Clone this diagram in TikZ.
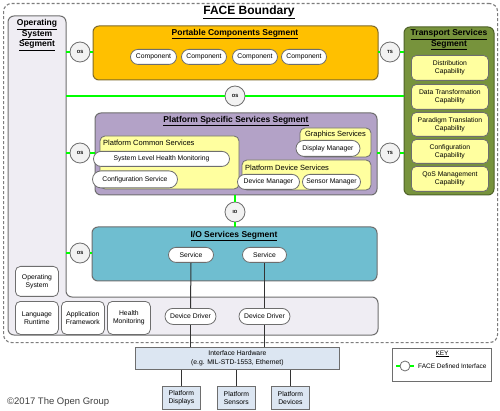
\documentclass[tikz,border=0pt]{standalone}
\usepackage{fontspec}
\setmainfont{Liberation Sans}
\usetikzlibrary{shapes.misc}
\definecolor{bord}{HTML}{6E6E6E}
\definecolor{orangeseg}{HTML}{FFC000}
\definecolor{orangebord}{HTML}{7F6A2A}
\definecolor{lavseg}{HTML}{B3A2C7}
\definecolor{tealseg}{HTML}{6FBED0}
\definecolor{oliveseg}{HTML}{77933C}
\definecolor{olivebord}{HTML}{4F6228}
\definecolor{paleyel}{HTML}{FFFF9F}
\definecolor{osfill}{HTML}{EFEDF3}
\definecolor{hwfill}{HTML}{DCE6F2}
\definecolor{ifgreen}{HTML}{00FF00}
\definecolor{circfill}{HTML}{F2F2F2}
\definecolor{copygray}{HTML}{404040}
\begin{document}
\begin{tikzpicture}[x=1pt,y=-1pt,
  seg/.style={draw=bord, line width=1pt, rounded corners=6pt, anchor=north west, inner sep=0pt, outer sep=0pt},
  ttl/.style={font=\bfseries\fontsize{8.5}{10.5}\selectfont, inner sep=0pt, align=center},
  lbl/.style={font=\fontsize{7.5}{9}\selectfont, inner sep=0pt, anchor=west},
  pill/.style={rounded rectangle, draw=bord, fill=white, line width=0.8pt, anchor=north west, inner sep=0pt, font=\fontsize{6.8}{8}\selectfont},
  box/.style={draw=bord, fill=white, rounded corners=5pt, line width=0.8pt, anchor=north west, inner sep=0pt, align=center, font=\fontsize{6.8}{8}\selectfont},
  capbox/.style={box, fill=paleyel},
  ifc/.style={circle, draw=bord, fill=circfill, line width=0.8pt, minimum size=20pt, inner sep=0pt, font=\bfseries\fontsize{4.5}{5}\selectfont},
  iface/.style={draw=ifgreen, line width=2.2pt},
  wire/.style={draw=black!80, line width=1pt},
  hw/.style={draw=bord, fill=hwfill, line width=0.8pt, anchor=north west, inner sep=0pt, align=center, font=\fontsize{6.8}{8.5}\selectfont},
]
\useasboundingbox (0,0) rectangle (500,411);
\fill[white] (0,0) rectangle (500,411);

% FACE boundary
\node[draw=bord!90, dash pattern=on 3pt off 2pt, line width=1.1pt, rounded corners=8pt,
      minimum width=494pt, minimum height=339pt, anchor=north west, inner sep=0pt] (boundary) at (3,3) {};
\node[font=\bfseries\fontsize{12}{14}\selectfont, inner sep=0pt] (facettl) at (249,12) {\underline{FACE Boundary}};

% Operating System Segment (L shape)
\draw[draw=bord, fill=osfill, line width=1pt, rounded corners=6pt]
  (8,16) -- (66,16) -- (66,297) -- (378,297) -- (378,335) -- (8,335) -- cycle;
\coordinate (osx) at (66,0);
\node[ttl] (osttl) at (37,35) {\underline{Operating}\\\underline{System}\\\underline{Segment}};
\node[box, minimum width=43pt, minimum height=30pt] (opsys) at (15,266) {Operating\\System};
\node[box, minimum width=43pt, minimum height=33pt] (langrt) at (15,301) {Language\\Runtime};
\node[box, minimum width=43pt, minimum height=33pt] (appfw) at (61,301) {Application\\Framework};
\node[box, minimum width=43pt, minimum height=33pt] (hmon) at (107,301) {Health\\Monitoring};

% Portable Components Segment
\node[seg, fill=orangeseg, draw=orangebord, minimum width=285pt, minimum height=54pt] (pcs) at (93,26) {};
\node[ttl] (pcsttl) at (235,34) {\underline{Portable Components Segment}};
\node[pill, minimum width=46pt, minimum height=15pt] (comp1) at (138,49) {Component};
\node[pill, minimum width=45pt, minimum height=15pt] (comp2) at (189,49) {Component};
\node[pill, minimum width=45pt, minimum height=15pt] (comp3) at (240,49) {Component};
\node[pill, minimum width=45pt, minimum height=15pt] (comp4) at (289,49) {Component};

% Transport Services Segment
\node[seg, fill=oliveseg, draw=olivebord, minimum width=90pt, minimum height=168pt] (tss) at (404,27) {};
\node[ttl] (tssttl) at (449,40) {\underline{Transport Services}\\\underline{Segment}};
\node[capbox, minimum width=77pt, minimum height=25pt] (dist) at (411,55) {Distribution\\Capability};
\node[capbox, minimum width=77pt, minimum height=25pt] (dtrans) at (411,84) {Data Transformation\\Capability};
\node[capbox, minimum width=77pt, minimum height=24pt] (ptrans) at (411,112) {Paradigm Translation\\Capability};
\node[capbox, minimum width=77pt, minimum height=24pt] (confcap) at (411,139) {Configuration\\Capability};
\node[capbox, minimum width=77pt, minimum height=25pt] (qos) at (411,166) {QoS Management\\Capability};

% Platform Specific Services Segment
\node[seg, fill=lavseg, minimum width=282pt, minimum height=82pt] (pss) at (95,113) {};
\node[ttl] (pssttl) at (236,121) {\underline{Platform Specific Services Segment}};
\node[seg, fill=paleyel, rounded corners=5pt, line width=0.8pt, minimum width=139pt, minimum height=53pt] (pcsv) at (100,136) {};
\node[lbl] (pcsvl) at (103,143) {Platform Common Services};
\node[pill, minimum width=136pt, minimum height=15pt] (slhm) at (101,151) {System Level Health Monitoring};
\node[pill, minimum width=85pt, minimum height=17pt] (cfgsvc) at (101,170.5) {Configuration Service};
\node[seg, fill=paleyel, rounded corners=5pt, line width=0.8pt, minimum width=71pt, minimum height=29pt] (gfx) at (300,128) {};
\node[font=\fontsize{7.5}{9}\selectfont, inner sep=0pt] (gfxl) at (335.5,135) {Graphics Services};
\node[pill, minimum width=64pt, minimum height=16pt] (dispm) at (304,140) {Display Manager};
\node[seg, fill=paleyel, rounded corners=5pt, line width=0.8pt, minimum width=129pt, minimum height=30pt] (pds) at (242,160) {};
\node[lbl] (pdsl) at (245,167.5) {Platform Device Services};
\node[pill, minimum width=62pt, minimum height=15pt] (devm) at (245,174) {Device Manager};
\node[pill, minimum width=58pt, minimum height=15pt] (sensm) at (310,174) {Sensor Manager};

% I/O Services Segment
\node[seg, fill=tealseg, minimum width=285pt, minimum height=54pt] (ios) at (92,227) {};
\node[ttl] (iosttl) at (234,236) {\underline{I/O Services Segment}};
\node[pill, minimum width=45pt, minimum height=15pt] (svc1) at (176,247) {Service};
\node[pill, minimum width=44pt, minimum height=15pt] (svc2) at (250,247) {Service};

% Device drivers
\node[pill, minimum width=51pt, minimum height=16pt] (dd1) at (173,308) {Device Driver};
\node[pill, minimum width=51pt, minimum height=16pt] (dd2) at (247,308) {Device Driver};

% Interface hardware and platform devices
\node[hw, minimum width=204pt, minimum height=22pt] (ih) at (135,347) {Interface Hardware\\(e.g. MIL-STD-1553, Ethernet)};
\node[hw, minimum width=38pt, minimum height=23pt] (pdisp) at (162,386) {Platform\\Displays};
\node[hw, minimum width=38pt, minimum height=23pt] (psens) at (217,386) {Platform\\Sensors};
\node[hw, minimum width=38pt, minimum height=23pt] (pdev) at (271,386) {Platform\\Devices};

% wires
\draw[wire] (svc1.south) -- (dd1.north);
\draw[wire] (dd1.south) -- (dd1.south |- ih.north);
\draw[wire] (svc2.south) -- (dd2.north);
\draw[wire] (dd2.south) -- (dd2.south |- ih.north);
\draw[wire] (pdisp.north |- ih.south) -- (pdisp.north);
\draw[wire] (psens.north |- ih.south) -- (psens.north);
\draw[wire] (pdev.north |- ih.south) -- (pdev.north);

% FACE interfaces
\node[ifc] (os1) at (80,52) {OS};
\node[ifc] (ts1) at (390,52) {TS};
\node[ifc] (os2) at (235,96) {OS};
\node[ifc] (os3) at (80,153) {OS};
\node[ifc] (ts2) at (390,153) {TS};
\node[ifc] (io1) at (235,212) {IO};
\node[ifc] (os4) at (80,253) {OS};

\draw[iface] (os1.west) -- (os1.west -| osx);
\draw[iface] (os1.east) -- (os1.east -| pcs.west);
\draw[iface] (ts1.west) -- (ts1.west -| pcs.east);
\draw[iface] (ts1.east) -- (ts1.east -| tss.west);
\draw[iface] (os2.west) -- (os2.west -| osx);
\draw[iface] (os2.east) -- (os2.east -| tss.west);
\draw[iface] (os3.west) -- (os3.west -| osx);
\draw[iface] (os3.east) -- (os3.east -| pss.west);
\draw[iface] (ts2.west) -- (ts2.west -| pss.east);
\draw[iface] (ts2.east) -- (ts2.east -| tss.west);
\draw[iface] (io1.north) -- (io1.north |- pss.south);
\draw[iface] (io1.south) -- (io1.south |- ios.north);
\draw[iface] (os4.west) -- (os4.west -| osx);
\draw[iface] (os4.east) -- (os4.east -| ios.west);

% Key
\node[draw=bord, fill=white, line width=0.8pt, minimum width=99pt, minimum height=33pt, anchor=north west, inner sep=0pt] (keybox) at (392,348) {};
\node[font=\fontsize{6.5}{8}\selectfont, inner sep=0pt] (keyttl) at (442,354) {\underline{KEY}};
\coordinate (keyL) at (396,366);
\coordinate (keyR) at (414,366);
\node[circle, draw=bord, fill=white, line width=0.8pt, minimum size=10pt, inner sep=0pt] (keyc) at (405,366) {};
\draw[iface] (keyL) -- (keyc.west);
\draw[iface] (keyc.east) -- (keyR);
\node[font=\fontsize{6.5}{8}\selectfont, inner sep=0pt, anchor=west] (keytxt) at (418,366) {FACE Defined Interface};

% copyright
\node[font=\fontsize{9.5}{11}\selectfont, text=copygray, inner sep=0pt, anchor=west] (copy) at (7,402) {©2017 The Open Group};
\end{tikzpicture}
\end{document}
